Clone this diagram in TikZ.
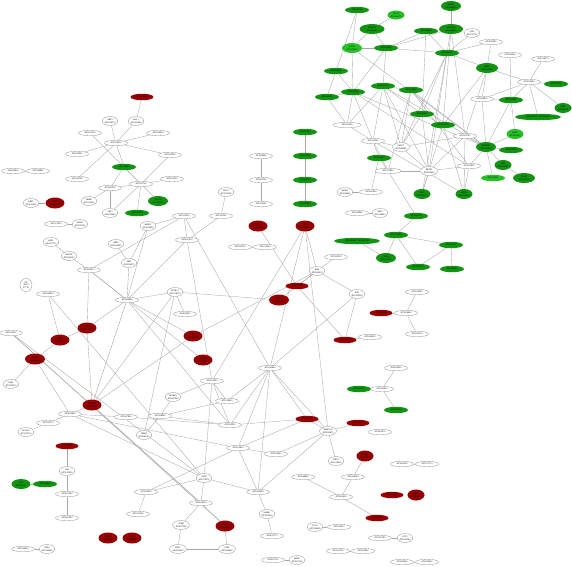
\documentclass[tikz,border=0pt]{standalone}
\usepackage{fontspec}
\setmainfont{Liberation Serif}
\usetikzlibrary{shapes.geometric,backgrounds}
\definecolor{gdark}{RGB}{18,148,18}
\definecolor{gbright}{RGB}{40,192,40}
\definecolor{rdark}{RGB}{150,0,0}
\definecolor{edgegray}{RGB}{168,168,168}
\definecolor{rimgray}{RGB}{140,140,140}
\newcommand{\genefont}{\fontsize{2.2}{2.6}\selectfont}
\tikzset{
  wn/.style={ellipse, draw=rimgray, line width=0.3pt, fill=white, inner sep=0pt,
    minimum width=23pt, minimum height=5.5pt, font=\genefont, align=center},
  wtwo/.style={wn, minimum width=15pt, minimum height=9pt},
  gn/.style={wn, draw=none, fill=gdark, minimum width=24pt, minimum height=6.5pt},
  gtwo/.style={wtwo, draw=none, fill=gdark, minimum width=20pt, minimum height=10pt},
  gwide/.style={gn, minimum width=46pt},
  gb/.style={gn, fill=gbright},
  gbtwo/.style={gtwo, fill=gbright},
  rn/.style={wn, draw=none, fill=rdark, minimum width=23pt, minimum height=6.5pt},
  rtwo/.style={wtwo, draw=none, fill=rdark, minimum width=19pt, minimum height=11pt},
  link/.style={draw=edgegray, line width=0.35pt}
}
\begin{document}
\begin{tikzpicture}[x=1pt, y=-1pt]
  \useasboundingbox (0,0) rectangle (572,566);

  % top left cluster
  \node[rn] (r1) at (142,97) {AT2G46830};
  \node[wtwo] (w1) at (110,121) {GBF3\\AT2G46270};
  \node[wtwo] (w2) at (136,121) {LHY1\\AT1G01060};
  \node[wn] (w3) at (90,133) {AT3G15210};
  \node[wn] (w4) at (158,133) {AT5G24120};
  \node[wn] (w5) at (116,143) {AT1G19210};
  \node[wn] (w6) at (77,154) {AT4G36900};
  \node[wn] (w7) at (170,155) {AT2G23340};
  \node[gn] (g1) at (124,167) {AT1G74930};
  \node[wn] (w8) at (172,179) {AT5G51190};
  \node[wn] (w9) at (141,184) {AT2G35700};
  \node[wn] (w10) at (77,179) {AT1G46768};
  \node[wn] (w11) at (110,188) {AT3G23230};
  \node[wn] (w12) at (13,171) {AT4G34410};
  \node[wn] (w13) at (38,171) {AT2G44840};
  \node[wtwo] (w14) at (31,203) {ERF1\\AT3G23240};
  \node[rtwo] (r2) at (55,203) {RAP2\\AT4G17500};
  \node[wtwo] (w15) at (89,201) {DREB\\AT1G12610};
  \node[gtwo] (g2) at (158,201) {ZAT10\\AT1G27730};
  \node[gn] (g3) at (137,213) {AT5G47230};
  \node[wtwo] (w16) at (110,213) {CBF1\\AT4G25490};
  \node[wn] (w17) at (56,224) {AT1G71030};
  \node[wtwo] (w18) at (80,224) {MYB2\\AT2G47190};

  % middle left, upper part
  \node[wtwo] (w19) at (148,226) {WRKY\\AT4G31800};
  \node[wn] (w20) at (184,216) {AT5G13330};
  \node[wn] (w21) at (221,216) {AT1G22190};
  \node[wtwo] (w22) at (226,192) {NAC3\\AT3G15500};
  \node[wn] (w23) at (187,240) {AT4G27410};
  \node[wtwo] (w24) at (51,242) {HSF1\\AT4G17750};
  \node[wtwo] (w25) at (69,256) {HSFA2\\AT2G26150};
  \node[wn] (w26) at (89,270) {AT5G62470};
  \node[wtwo] (w27) at (116,244) {ABF2\\AT1G45249};
  \node[wtwo] (w28) at (129,263) {ABI5\\AT2G36270};

  % two chains in the middle
  \node[wn] (w29) at (261,156) {AT3G06490};
  \node[wn] (w30) at (261,180) {AT5G67300};
  \node[wn] (w31) at (261,204) {AT1G56160};
  \node[gn] (g4) at (305,132) {AT4G37260};
  \node[gn] (g5) at (305,156) {AT2G47460};
  \node[gn] (g6) at (305,180) {AT5G49330};
  \node[gn] (g7) at (305,204) {AT3G62610};
  \node[rtwo] (r3) at (258,226) {MYC2\\AT1G32640};
  \node[rtwo] (r4) at (305,226) {JAZ1\\AT1G19180};
  \node[wn] (w32) at (240,247) {AT2G34720};
  \node[wn] (w33) at (265,247) {AT1G72360};

  % top right cluster
  \node[gn] (g8) at (357,10) {AT5G63790};
  \node[gbtwo, minimum width=17pt, minimum height=9pt] (g9) at (396,15) {NAC6\\AT3G04070};
  \node[gtwo] (g10) at (451,6) {WRKY\\AT2G38470};
  \node[gtwo, minimum width=25pt] (g11) at (372,29) {ERF104\\AT5G61600};
  \node[gn] (g12) at (426,31) {AT1G80840};
  \node[gtwo, minimum width=24pt] (g13) at (451,29) {WRKY40\\AT1G80840};
  \node[gbtwo] (g14) at (352,48) {ZAT12\\AT5G59820};
  \node[gn] (g15) at (386,48) {AT4G17490};
  \node[gn] (g16) at (447,53) {AT2G40140};
  \node[wtwo] (w34) at (472,33) {STZ1\\AT1G27730};
  \node[wn] (w35) at (491,42) {AT3G55980};
  \node[wn] (w36) at (510,55) {AT5G04340};
  \node[wn] (w37) at (543,59) {AT1G18570};
  \node[gn] (g17) at (336,71) {AT2G22800};
  \node[gtwo, minimum width=22pt] (g18) at (487,68) {ERF6\\AT4G17490};
  \node[wn] (w38) at (529,82) {AT3G50260};
  \node[gn] (g19) at (556,84) {AT5G47220};
  \node[gn] (g20) at (353,92) {AT4G34150};
  \node[gn] (g21) at (327,97) {AT1G42990};
  \node[gn] (g22) at (383,86) {AT2G41010};
  \node[gn] (g23) at (411,90) {AT3G44260};
  \node[wn] (w39) at (482,99) {AT5G26920};
  \node[gn] (g24) at (511,100) {AT1G66090};
  \node[gtwo, minimum width=17pt, minimum height=10pt] (g25) at (563,108) {CZF1\\AT2G40140};
  \node[gwide] (g26) at (538,117) {AT4G24570 / AT5G64905};
  \node[wn, minimum width=28pt] (w40) at (347,125) {AT1G61340};
  \node[gn] (g27) at (422,114) {AT3G52400};
  \node[gn] (g28) at (443,125) {AT2G37430};
  \node[wn] (w41) at (465,136) {AT5G52760};
  \node[gbtwo, minimum width=17pt] (g29) at (515,134) {BAP1\\AT3G61190};
  \node[wn] (w42) at (373,141) {AT1G05340};
  \node[wtwo, minimum width=17pt] (w43) at (401,147) {CML37\\AT5G42380};
  \node[gtwo] (g30) at (486,147) {DREB26\\AT1G21910};
  \node[gn] (g31) at (511,150) {AT4G29780};
  \node[gn] (g32) at (379,158) {AT2G24850};
  \node[wn, minimum width=26pt] (w44) at (388,171) {AT1G74450};
  \node[wtwo, minimum width=17pt] (w45) at (429,171) {RRTF1\\AT4G34410};
  \node[wn] (w46) at (469,166) {AT3G10930};
  \node[gtwo, minimum width=17pt] (g33) at (503,165) {SZF1\\AT3G55980};
  \node[gb] (g34) at (493,178) {AT1G56060};
  \node[gtwo, minimum width=22pt] (g35) at (524,178) {TCH4\\AT5G57560};
  \node[gtwo, minimum width=17pt] (g36) at (422,194) {CBF2\\AT4G25470};
  \node[gtwo, minimum width=17pt] (g37) at (464,194) {MPK3\\AT3G45640};
  \node[wtwo] (w47) at (345,192) {WRKY\\AT2G46400};
  \node[wn] (w48) at (371,192) {AT5G01900};
  \node[wn] (w49) at (357,213) {AT1G69490};
  \node[wtwo] (w50) at (380,213) {NAP1\\AT1G69490};
  \node[gn] (g38) at (416,216) {AT3G08720};
  \node[gwide] (g39) at (357,241) {AT2G33385 / AT2G33380};
  \node[gn] (g40) at (396,235) {AT1G76650};
  \node[gtwo] (g41) at (386,258) {CML38\\AT1G76650};
  \node[gn] (g42) at (418,267) {AT5G39670};
  \node[gn] (g43) at (451,245) {AT4G27280};
  \node[gn] (g44) at (452,269) {AT1G66400};

  % middle right
  \node[wn] (w51) at (336,257) {AT5G25350};
  \node[wtwo] (w52) at (317,271) {PIF4\\AT2G43010};
  \node[rn] (r5) at (297,286) {AT1G01720};
  \node[rtwo, minimum width=20pt] (r6) at (279,300) {ATAF1\\AT1G01720};
  \node[wtwo] (w53) at (357,294) {PIF3\\AT1G09530};
  \node[wn] (w54) at (417,292) {AT2G18160};
  \node[rn] (r7) at (381,313) {AT4G01250};
  \node[wn] (w55) at (406,313) {AT3G56400};
  \node[wn] (w56) at (417,334) {AT5G24110};
  \node[rn] (r8) at (345,340) {AT2G30250};
  \node[wn] (w57) at (370,337) {AT1G80590};
  \node[wn] (w58) at (396,368) {AT4G23810};
  \node[gn] (g45) at (359,389) {AT5G22570};
  \node[wn] (w59) at (382,389) {AT1G62300};
  \node[gn] (g46) at (396,410) {AT2G38470};
  \node[rn] (r9) at (307,419) {AT4G31550};
  \node[wtwo, minimum width=17pt] (w60) at (328,431) {WRKY33\\AT2G38470};
  \node[rn] (r10) at (358,423) {AT1G13960};
  \node[wn] (w61) at (380,432) {AT3G01970};

  % middle left, lower part
  \node[wtwo, minimum width=12pt, minimum height=13pt] (w62) at (26,285) {ZF\\AT1G\\27730};
  \node[wn] (w63) at (48,294) {AT2G28550};
  \node[wn] (w64) at (127,300) {AT5G60890};
  \node[wtwo] (w65) at (175,292) {MYB51\\AT1G18570};
  \node[wn] (w66) at (185,314) {AT4G39950};
  \node[rtwo] (r11) at (87,328) {CYP79\\AT4G39950};
  \node[rtwo] (r12) at (60,340) {CYP83\\AT4G13770};
  \node[wn] (w67) at (11,333) {AT1G24100};
  \node[rtwo, minimum width=20pt] (r13) at (35,359) {SUR1\\AT2G20610};
  \node[rtwo] (r14) at (193,336) {UGT74\\AT1G24100};
  \node[rtwo] (r15) at (203,360) {SOT16\\AT1G74100};
  \node[wtwo] (w68) at (11,384) {IQD1\\AT3G09710};
  \node[rtwo] (r16) at (92,405) {MAM1\\AT5G23010};
  \node[wn] (w69) at (70,414) {AT4G03060};
  \node[wn] (w70) at (126,417) {AT5G07690};
  \node[wtwo] (w71) at (173,397) {MYB29\\AT5G07690};
  \node[wn] (w72) at (48,423) {AT3G19710};
  \node[wtwo] (w73) at (26,432) {BCAT4\\AT3G19710};
  \node[wtwo] (w74) at (144,435) {IPMI2\\AT2G43100};
  \node[wn] (w75) at (160,416) {AT3G58990};

  % bottom centre
  \node[wn] (w76) at (270,368) {AT1G65860};
  \node[wn] (w77) at (212,381) {AT4G12030};
  \node[wn] (w78) at (227,401) {AT1G16410};
  \node[wn] (w79) at (230,425) {AT2G22330};
  \node[wn] (w80) at (238,448) {AT4G13430};
  \node[wn] (w81) at (276,454) {AT5G14200};
  \node[wtwo] (w82) at (336,461) {FMO1\\AT1G19250};
  \node[wn] (w83) at (303,477) {AT3G49680};
  \node[wn] (w84) at (353,477) {AT1G62540};
  \node[rtwo, minimum width=17pt] (r17) at (365,456) {ESM1\\AT3G14210};
  \node[wtwo] (w85) at (204,478) {GSTF\\AT1G78370};
  \node[wn] (w86) at (146,492) {AT2G25450};
  \node[wn] (w87) at (258,492) {AT1G62560};
  \node[wn] (w88) at (341,497) {AT5G61420};
  \node[rn] (r18) at (392,495) {AT1G18590};
  \node[rtwo, minimum width=17pt] (r19) at (416,495) {PEN2\\AT2G44490};
  \node[wn] (w89) at (201,503) {AT4G30530};
  \node[wn] (w90) at (138,514) {AT1G31180};
  \node[wtwo] (w91) at (267,514) {MAM3\\AT5G23020};
  \node[wtwo, minimum width=17pt] (w92) at (181,525) {CYP81\\AT5G57220};
  \node[rtwo] (r20) at (225,526) {GTR1\\AT3G47960};
  \node[rn] (r21) at (377,518) {AT2G46650};
  \node[wtwo] (w93) at (315,527) {TGG1\\AT5G26000};
  \node[wn] (w94) at (339,527) {AT1G54010};
  \node[wn] (w95) at (272,536) {AT4G13770};
  \node[wtwo, minimum width=17pt] (w96) at (178,549) {BAT5\\AT4G12030};
  \node[wtwo, minimum width=17pt] (w97) at (227,549) {GTR2\\AT5G62680};
  \node[wn] (w98) at (338,551) {AT2G31790};
  \node[wn] (w99) at (363,551) {AT1G05680};
  \node[wn] (w100) at (380,538) {AT3G21780};
  \node[wtwo] (w101) at (405,538) {UGT1\\AT1G05560};
  \node[wn] (w102) at (402,562) {AT5G05600};
  \node[wn] (w103) at (427,562) {AT2G38240};
  \node[wn] (w104) at (273,560) {AT4G37150};
  \node[wtwo] (w105) at (297,560) {MES9\\AT4G37140};
  \node[wn] (w106) at (402,464) {AT3G03190};
  \node[wn] (w107) at (427,464) {AT1G17170};

  % bottom left
  \node[rn] (r22) at (67,446) {AT5G13930};
  \node[wtwo] (w108) at (67,471) {CHS\\AT5G13930};
  \node[gtwo, minimum width=19pt] (g47) at (21,484) {TT4\\AT3G55120};
  \node[gn] (g48) at (45,484) {AT5G08640};
  \node[wn] (w109) at (67,494) {AT3G51240};
  \node[wn] (w110) at (67,518) {AT5G07990};
  \node[rtwo] (r23) at (108,538) {PAP1\\AT1G56650};
  \node[rtwo] (r24) at (132,538) {TT8\\AT4G09820};
  \node[wn] (w111) at (23,549) {AT1G66390};
  \node[wtwo] (w112) at (47,549) {PAP2\\AT1G66390};

  % connectors
  \begin{scope}[on background layer]
    \foreach \a/\b in {r1/w2, w1/w5, w2/w5, w3/w9, w4/w5, w5/w6, w5/w7, w5/g1, w5/w10,
      w7/w9, g1/w11, g1/w9, w9/w8, w9/w11, w11/w15, w11/w16, w9/w16, w9/g3, w9/g2,
      w14/r2, w17/w18, w12/w13,
      w22/w21, w21/w23, w20/w23, w20/w19, w20/w26, w19/w28, w27/w28, w24/w25, w25/w26,
      w26/w64, w28/w64, w26/r11, w19/w64, w23/w64, w23/w77, w20/w76, w32/w33,
      w65/w66, w64/w65, w65/r6, w65/r16, w65/w74, w64/r11, w64/r14, w64/r16, w64/w79,
      w63/r12, w63/w85, r11/r12, r12/r13, r13/w68, r13/w69, r11/r16, r16/w69, r16/r14,
      w67/w89, w67/r20, w67/w85, w69/w70, w69/w72, w72/w73, w69/w80, w69/w85, r16/w89,
      r22/w108, w108/w109, w109/w110, g47/g48, w111/w112, r15/w26,
      w75/w74, w75/w71, w75/w78, w75/w79, w70/w79, w77/w71, w77/w78, w77/w79, w77/w85,
      r4/w77, w78/w76, w79/w76, w76/w80, w76/w87, w76/r9, w76/w60, r4/w76, w76/w53,
      w79/r9, w80/r9, w80/w81, w80/w86, w80/w87, w81/w60, w87/w60, w87/w91, w91/w95,
      w85/w89, w85/w87, w85/w86, w89/w92, w89/r20, w92/w96, r20/w97, w96/w97, w86/w90,
      w83/w88, w84/w88, w84/r17, w88/r21, w93/w94, w82/w60, r9/w60, w60/r10, r4/w60,
      w98/w99, w100/w101, w102/w103, w104/w105, w106/w107, r14/w52,
      r4/w52, w51/w52, w52/r5, w52/w53, r3/r5, r5/r8, w53/r8, r8/w57, w55/r7, w55/w54,
      w55/w56, w59/g45, w59/w58, w59/g46, w29/w30, w30/w31, g4/g5, g5/g6, g6/g7, r6/w52,
      w47/w48, w49/w50, g38/g40, g40/g41, g40/g42, g40/g43, g39/g41, g43/g44, g43/g42,
      g8/g14, g8/g17, g9/g11, g11/g14, g11/g15, g14/g15, g14/g20, g17/g20, g17/g21,
      g21/g20, g15/g20, g15/g22, g15/g12, g15/g16, g15/g13, g20/w40, g20/w42, g21/w40,
      w40/g22, w40/w42, g22/g23, g22/g27, g22/w42, g22/w43, g22/g30, g23/g28, g23/w43,
      g23/w44, g23/g30, g23/w46, g27/g28, g27/w45, g27/w43, w42/w43, w42/g32, w42/w44,
      w43/w45, w43/w41, w41/w45, w46/w45, w45/g36, w44/g32, w44/w45, w44/g38, g32/w48,
      g10/g13, g13/g16, g12/g16, w34/g16, w35/g18, w35/g16, w36/g24, w37/w38, w38/g19,
      w38/g18, w38/g24, w38/g26, w38/g25, w38/w39, g16/g18, g18/w39, g18/g28, w39/g24,
      w39/g30, g24/g30, g29/g30, g30/g31, g30/g33, g30/g34, w41/g30, w46/g37, w46/g30,
      g33/g35, g16/g27, g16/w45, g16/g36, g13/g28, g12/g27, g13/w41, g16/w43, g18/w41,
      g20/w46, g14/g30, g29/g24, w42/g37, g22/w45, g28/g36, g28/g37, w41/g37, g20/g30}
      \draw[link] (\a) -- (\b);
  \end{scope}
\end{tikzpicture}
\end{document}
